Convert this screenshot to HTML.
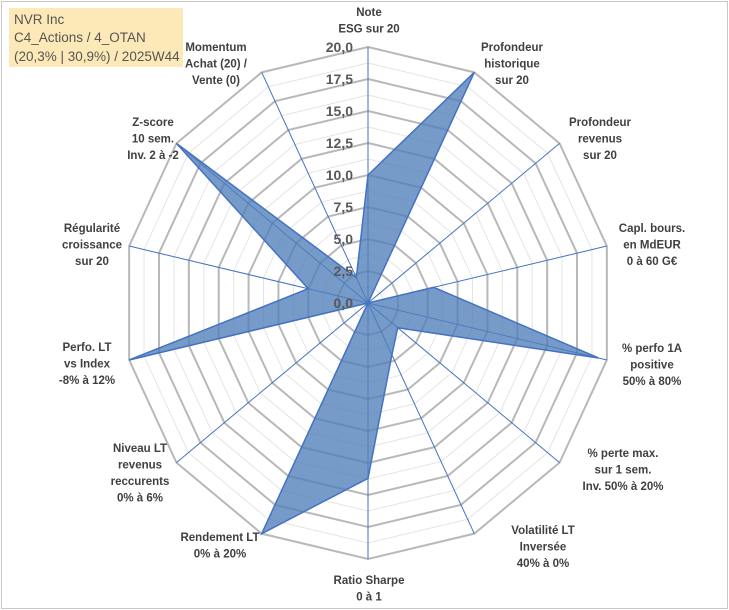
<!DOCTYPE html>
<html><head><meta charset="utf-8"><style>
html,body{margin:0;padding:0;background:#fff;}
svg{display:block;font-family:"Liberation Sans",Arial,sans-serif;}
.lbl{font-size:11.5px;font-weight:bold;fill:#404040;text-anchor:middle;}
.tick{font-size:14px;font-weight:bold;fill:#595959;text-anchor:end;}
</style></head><body>
<svg id="chart" width="729" height="610">
<rect x="1.5" y="1.5" width="726" height="607" fill="#fff" stroke="#c8c8c8"/>
<g id="grid"></g><g id="spokes"></g><g id="series"></g><g id="ticks"></g><g id="labels"></g>
<rect x="9" y="8" width="174" height="59" fill="#fde9b8"/>
<text x="14" y="24" font-size="13.5" fill="#555">NVR Inc</text>
<text x="14" y="42" font-size="13.5" fill="#555">C4_Actions / 4_OTAN</text>
<text x="14" y="61" font-size="13.5" fill="#555">(20,3% | 30,9%) / 2025W44</text>
</svg>
<script>
const categories=[["Note","ESG sur 20"],["Profondeur","historique","sur 20"],["Profondeur","revenus","sur 20"],["Capl. bours.","en MdEUR","0 à 60 G€"],["% perfo 1A","positive","50% à 80%"],["% perte max.","sur 1 sem.","Inv. 50% à 20%"],["Volatilité LT","Inversée","40% à 0%"],["Ratio Sharpe","0 à 1"],["Rendement LT","0% à 20%"],["Niveau LT","revenus","reccurents","0% à 6%"],["Perfo. LT","vs Index","-8% à 12%"],["Régularité","croissance","sur 20"],["Z-score","10 sem.","Inv. 2 à -2"],["Momentum","Achat (20) /","Vente (0)"]];
const values=[10,20,0,5.5,19.3,3.1,4.5,13.7,20,0,20,5,20,2.2];
const tickLabels=["0,0","2,5","5,0","7,5","10,0","12,5","15,0","17,5","20,0"];
const labelPos=[[369,12],[512,47],[600,122],[652,228],[652,348],[623,453],[543,530],[369,580],[220,537],[140,448],[87,347],[92,228],[153,122],[216,47]];
const NS="http://www.w3.org/2000/svg";
const cx=368,cy=303,RX=245,RY=256,MAX=20,N=categories.length;
function pt(i,v){const a=i*2*Math.PI/N;return[cx+Math.sin(a)*RX*v/MAX,cy-Math.cos(a)*RY*v/MAX];}
function mk(t,attrs,parent){const e=document.createElementNS(NS,t);for(const k in attrs)e.setAttribute(k,attrs[k]);document.getElementById(parent).appendChild(e);return e;}
for(let k=16;k>=1;k--){const v=k*1.25;const p=[];for(let i=0;i<N;i++)p.push(pt(i,v).join(','));
const e=mk('polygon',{points:p.join(' '),fill:'none',stroke:k%2===0?'#b8b8b8':'#e4e4e4','stroke-width':k%2===0?2:1},'grid');

}
for(let i=0;i<N;i++){const q=pt(i,MAX);const e=mk('line',{x1:cx,y1:cy,x2:q[0],y2:q[1],stroke:'#4472c4','stroke-width':1},'spokes');

}
const sp=values.map((v,i)=>pt(i,v).join(',')).join(' ');
const poly=mk('polygon',{points:sp,fill:'#4f7fb8','fill-opacity':0.78,stroke:'#4472c4','stroke-width':1.5},'series');


tickLabels.forEach((t,k)=>{const y=cy-RY*(k*2.5)/MAX;const e=mk('text',{x:cx-15,y:y+5,class:'tick'},'ticks');e.textContent=t;

});
categories.forEach((c,i)=>{const [x,y]=labelPos[i];c.forEach((line,j)=>{const e=mk('text',{x:x,y:y+j*16.5+4,class:'lbl'},'labels');e.textContent=line;

});});
</script>
</body></html>
